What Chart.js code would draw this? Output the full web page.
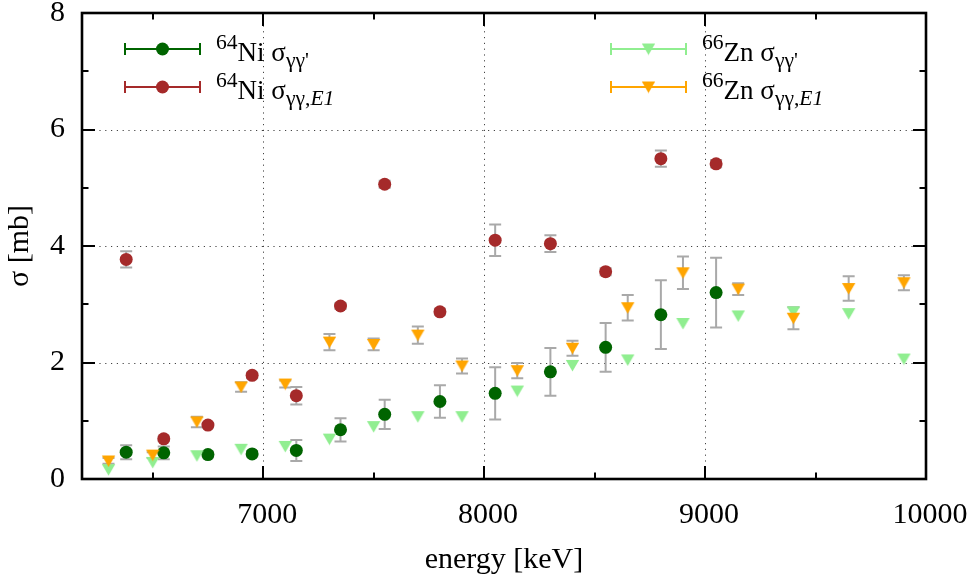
<!DOCTYPE html>
<html>
<head>
<meta charset="utf-8">
<script src="https://cdn.jsdelivr.net/npm/chart.js@4/dist/chart.umd.min.js"></script>
<style>
  html, body { margin: 0; padding: 0; background: #fff; }
  #wrap { width: 974px; height: 577px; }
</style>
</head>
<body>
<div id="wrap"><canvas id="c" width="974" height="577"></canvas></div>
<script>
// Photon scattering cross sections of 64Ni and 66Zn (mb) versus energy (keV)
const niEnergy   = [6380, 6550, 6750, 6950, 7150, 7350, 7550, 7800, 8050, 8300, 8550, 8800, 9050];
const niSigGG    = [0.46, 0.45, 0.42, 0.43, 0.49, 0.845, 1.11, 1.33, 1.47, 1.84, 2.26, 2.82, 3.20];
const niSigGGErr = [0.12, 0.11, 0.05, 0.05, 0.18, 0.20, 0.25, 0.28, 0.45, 0.41, 0.42, 0.59, 0.60];
const niSigE1    = [3.77, 0.69, 0.925, 1.78, 1.43, 2.97, 5.06, 2.87, 4.10, 4.04, 3.56, 5.50, 5.41];
const niSigE1Err = [0.14, 0.04, 0.04, 0.05, 0.15, 0.05, 0.06, 0.05, 0.27, 0.145, 0.06, 0.14, 0.06];

const znEnergy   = [6300, 6500, 6700, 6900, 7100, 7300, 7500, 7700, 7900, 8150, 8400, 8650, 8900, 9150, 9400, 9650, 9900];
const znSigGG    = [0.16, 0.285, 0.40, 0.51, 0.56, 0.685, 0.90, 1.07, 1.07, 1.51, 1.95, 2.045, 2.67, 2.80, 2.87, 2.84, 2.06];
const znSigE1    = [0.31, 0.41, 0.98, 1.58, 1.63, 2.35, 2.31, 2.47, 1.94, 1.86, 2.245, 2.94, 3.54, 3.26, 2.76, 3.27, 3.37];
const znSigE1Err = [0.05, 0.05, 0.09, 0.08, 0.06, 0.14, 0.10, 0.15, 0.13, 0.13, 0.13, 0.22, 0.28, 0.10, 0.19, 0.21, 0.13];

const xTicks = [7000, 8000, 9000, 10000];
const yTicks = [0, 2, 4, 6, 8];
const xRange = [6180, 10000];
const yRange = [0, 8];
const xMinorStep = 500;
const yMinorStep = 1;

const xTitle = 'energy [keV]';
const yTitle = 'σ [mb]';

// legend labels: pieces with superscript / subscript / italic flags
const labelNiGG = [{t: '64', sup: true}, {t: 'Ni σ'}, {t: "γγ'", sub: true}];
const labelNiE1 = [{t: '64', sup: true}, {t: 'Ni σ'}, {t: 'γγ,', sub: true}, {t: 'E1', sub: true, it: true}];
const labelZnGG = [{t: '66', sup: true}, {t: 'Zn σ'}, {t: "γγ'", sub: true}];
const labelZnE1 = [{t: '66', sup: true}, {t: 'Zn σ'}, {t: 'γγ,', sub: true}, {t: 'E1', sub: true, it: true}];

const SERIF = '"Liberation Serif", "Times New Roman", serif';
const C_DKGREEN = '#006400';
const C_BROWN = '#a52a2a';
const C_LTGREEN = '#90ee90';
const C_ORANGE = '#ffa500';
const C_ERR = '#a9a9a9';

// downward triangle marker, centred on its bounding box
function downTriangle(color) {
  const cv = document.createElement('canvas');
  cv.width = 15; cv.height = 13;
  const g = cv.getContext('2d');
  g.fillStyle = color;
  g.beginPath();
  g.moveTo(0.8, 1);
  g.lineTo(14.2, 1);
  g.lineTo(7.5, 12.4);
  g.closePath();
  g.fill();
  return cv;
}
const triLtGreen = downTriangle(C_LTGREEN);
const triOrange = downTriangle(C_ORANGE);

const pts = (xs, ys) => xs.map((x, i) => ({x, y: ys[i]}));

const series = [
  {label: labelNiGG, data: pts(niEnergy, niSigGG), err: niSigGGErr, color: C_DKGREEN, style: 'circle', order: 4},
  {label: labelNiE1, data: pts(niEnergy, niSigE1), err: niSigE1Err, color: C_BROWN, style: 'circle', order: 3},
  {label: labelZnGG, data: pts(znEnergy, znSigGG), err: null, color: C_LTGREEN, style: triLtGreen, order: 2},
  {label: labelZnE1, data: pts(znEnergy, znSigE1), err: znSigE1Err, color: C_ORANGE, style: triOrange, order: 1},
];

function drawRich(ctx, x, y, parts, size) {
  ctx.textAlign = 'left';
  ctx.textBaseline = 'alphabetic';
  ctx.fillStyle = '#000';
  for (const p of parts) {
    const small = p.sup || p.sub;
    const s = small ? size * 0.8 : size;
    const dy = p.sup ? -size * 0.45 : (p.sub ? size * 0.22 : 0);
    ctx.font = (p.it ? 'italic ' : '') + s + 'px ' + SERIF;
    ctx.fillText(p.t, x, y + dy);
    x += ctx.measureText(p.t).width;
  }
}

const axesPlugin = {
  id: 'gnuAxes',
  beforeDatasetsDraw(chart) {
    const {ctx, chartArea: a, scales: {x, y}} = chart;
    ctx.save();
    // dotted grid
    ctx.strokeStyle = '#444';
    ctx.lineWidth = 1;
    ctx.setLineDash([1.2, 4.6]);
    for (const v of xTicks) {
      if (v <= xRange[0] || v >= xRange[1]) continue;
      const px = Math.round(x.getPixelForValue(v)) + 0.5;
      ctx.beginPath(); ctx.moveTo(px, a.bottom); ctx.lineTo(px, a.top); ctx.stroke();
    }
    for (const v of yTicks) {
      if (v <= yRange[0] || v >= yRange[1]) continue;
      const py = Math.round(y.getPixelForValue(v)) + 0.5;
      ctx.beginPath(); ctx.moveTo(a.left, py); ctx.lineTo(a.right, py); ctx.stroke();
    }
    ctx.setLineDash([]);
    // error bars
    ctx.strokeStyle = C_ERR;
    ctx.lineWidth = 2;
    for (const s of series) {
      if (!s.err) continue;
      s.data.forEach((p, i) => {
        const px = x.getPixelForValue(p.x);
        const y1 = y.getPixelForValue(p.y - s.err[i]);
        const y2 = y.getPixelForValue(p.y + s.err[i]);
        ctx.beginPath();
        ctx.moveTo(px, y1); ctx.lineTo(px, y2);
        ctx.moveTo(px - 6, y1); ctx.lineTo(px + 6, y1);
        ctx.moveTo(px - 6, y2); ctx.lineTo(px + 6, y2);
        ctx.stroke();
      });
    }
    ctx.restore();
  },
  afterDraw(chart) {
    const {ctx, chartArea: a, scales: {x, y}} = chart;
    ctx.save();
    ctx.strokeStyle = '#000';
    // tick marks on all four sides, pointing inward
    ctx.lineWidth = 2;
    const majL = 13, minL = 6.5;
    const xMinors = [], yMinors = [];
    for (let v = Math.ceil(xRange[0] / xMinorStep) * xMinorStep; v < xRange[1]; v += xMinorStep)
      if (!xTicks.includes(v)) xMinors.push(v);
    for (let v = Math.ceil(yRange[0] / yMinorStep) * yMinorStep; v < yRange[1]; v += yMinorStep)
      if (!yTicks.includes(v)) yMinors.push(v);
    ctx.beginPath();
    for (const [vals, len] of [[xTicks, majL], [xMinors, minL]]) {
      for (const v of vals) {
        const px = Math.round(x.getPixelForValue(v));
        ctx.moveTo(px, a.bottom); ctx.lineTo(px, a.bottom - len);
        ctx.moveTo(px, a.top); ctx.lineTo(px, a.top + len);
      }
    }
    for (const [vals, len] of [[yTicks, majL], [yMinors, minL]]) {
      for (const v of vals) {
        const py = Math.round(y.getPixelForValue(v));
        ctx.moveTo(a.left, py); ctx.lineTo(a.left + len, py);
        ctx.moveTo(a.right, py); ctx.lineTo(a.right - len, py);
      }
    }
    ctx.stroke();
    // frame
    ctx.lineWidth = 2.6;
    ctx.strokeRect(a.left, a.top, a.right - a.left, a.bottom - a.top);

    // key
    const rows = [49, 87];
    const cols = [{x0: 125, x1: 200, text: 216}, {x0: 611, x1: 686, text: 702}];
    series.forEach((s, i) => {
      const col = cols[Math.floor(i / 2)];
      const ry = rows[i % 2];
      ctx.strokeStyle = s.color;
      ctx.lineWidth = 2;
      ctx.beginPath();
      ctx.moveTo(col.x0, ry); ctx.lineTo(col.x1, ry);
      ctx.moveTo(col.x0, ry - 6); ctx.lineTo(col.x0, ry + 6);
      ctx.moveTo(col.x1, ry - 6); ctx.lineTo(col.x1, ry + 6);
      ctx.stroke();
      const mx = (col.x0 + col.x1) / 2;
      if (s.style === 'circle') {
        ctx.fillStyle = s.color;
        ctx.beginPath(); ctx.arc(mx, ry, 6.5, 0, Math.PI * 2); ctx.fill();
      } else {
        ctx.drawImage(s.style, mx - s.style.width / 2, ry - s.style.height / 2);
      }
      drawRich(ctx, col.text, ry + 12, s.label, 27);
    });
    ctx.restore();
  }
};

new Chart(document.getElementById('c'), {
  type: 'scatter',
  data: {
    datasets: series.map(s => ({
      data: s.data,
      order: s.order,
      pointStyle: s.style,
      pointRadius: 6.5,
      pointHoverRadius: 6.5,
      pointBorderWidth: 0,
      backgroundColor: s.color,
      borderColor: s.color,
      showLine: false
    }))
  },
  options: {
    responsive: false,
    devicePixelRatio: 1,
    animation: false,
    layout: {padding: {top: 13, right: 48, left: 0, bottom: 0}},
    plugins: {legend: {display: false}, tooltip: {enabled: false}},
    scales: {
      x: {
        type: 'linear',
        min: xRange[0], max: xRange[1],
        afterBuildTicks: sc => { sc.ticks = xTicks.map(v => ({value: v})); },
        afterFit: sc => { sc.height = 98; sc.paddingLeft = 0; sc.paddingRight = 0; },
        grid: {display: false, drawTicks: false},
        border: {display: false},
        ticks: {
          color: '#000', padding: 18, labelOffset: 4, maxRotation: 0,
          font: {family: SERIF, size: 30},
          callback: v => String(v)
        },
        title: {
          display: true, text: xTitle, color: '#000',
          font: {family: SERIF, size: 30}, padding: {top: 0, bottom: -1}
        }
      },
      y: {
        type: 'linear',
        min: yRange[0], max: yRange[1],
        afterBuildTicks: sc => { sc.ticks = yTicks.map(v => ({value: v})); },
        afterFit: sc => { sc.width = 82; sc.paddingTop = 0; sc.paddingBottom = 0; },
        grid: {display: false, drawTicks: false},
        border: {display: false},
        ticks: {
          color: '#000', padding: 17,
          font: {family: SERIF, size: 30},
          callback: v => String(v)
        },
        title: {
          display: true, text: yTitle, color: '#000',
          font: {family: SERIF, size: 30}, padding: {top: 2, bottom: 0}
        }
      }
    }
  },
  plugins: [axesPlugin]
});
</script>
</body>
</html>
